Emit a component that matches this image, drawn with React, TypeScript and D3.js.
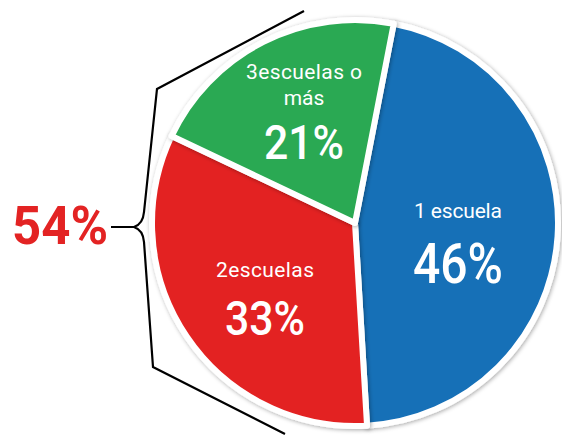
import React from "react";
import * as d3 from "d3";

const categories = ["1 escuela", "2escuelas", "3escuelas o más"];
const labelLines = [["1 escuela"], ["2escuelas"], ["3escuelas o", "más"]];
const values = [46, 33, 21];
const colors = ["#156FB7", "#E32323", "#2AA952"];
const bracketValue = "54%";

const W = 562;
const H = 435;
const cx = 355;
const cy = 223;
const R = 203;

const labelSpecs = [
  { x: 458, y: 218, fs: 21, pctY: 283, pctFs: 56, tl: 88, ptl: 90 },
  { x: 265, y: 277, fs: 21, pctY: 335, pctFs: 49, tl: 98, ptl: 80 },
  { x: 304, y: 79, fs: 21, pctY: 159, pctFs: 48, tl: 116, ptl: 80 },
];

export default function App() {
  const pie = d3
    .pie<number>()
    .sort(null)
    .startAngle((11 * Math.PI) / 180)
    .endAngle((11 * Math.PI) / 180 + 2 * Math.PI)(values);
  const arc = d3.arc<d3.PieArcDatum<number>>().innerRadius(0).outerRadius(R);

  const brace = d3.line()([
    [304, 11],
    [157, 89],
    [144, 212],
  ]);
  const brace2 = d3.line()([
    [144, 242],
    [153, 367],
    [285, 434],
  ]);
  const font = "Roboto, 'DejaVu Sans', sans-serif";

  return (
    <svg width={W} height={H} style={{ position: "absolute", left: 0, top: 0 }}>
      <defs>
        <filter id="sh" x="-10%" y="-10%" width="120%" height="120%">
          <feDropShadow dx="1" dy="1" stdDeviation="2" floodColor="#000" floodOpacity="0.35" />
        </filter>
      </defs>
      <rect width={W} height={H} fill="#fff" />
      <g transform={`translate(${cx},${cy})`}>
        {pie.map((p, i) => (
          <path key={categories[i]} d={arc(p) || ""} fill={colors[i]} stroke="#fff" strokeWidth={6} strokeLinejoin="round" filter="url(#sh)" />
        ))}
      </g>
      {pie.map((p, i) => {
        const s = labelSpecs[i];
        const lines = labelLines[i];
        return (
          <g key={"l" + i} fill="#fff" fontFamily={font} textAnchor="middle">
            {lines.map((ln, j) => (
              <text
                key={j}
                x={s.x}
                y={s.y + j * 26}
                fontSize={s.fs}
                textLength={j === 0 ? s.tl : undefined}
                lengthAdjust="spacing"
              >
                {ln}
              </text>
            ))}
            <text
              x={s.x}
              y={s.pctY}
              fontSize={s.pctFs}
              fontWeight={500}
              textLength={s.ptl}
              lengthAdjust="spacingAndGlyphs"
            >
              {`${p.data}%`}
            </text>
          </g>
        );
      })}
      <path d={brace || ""} fill="none" stroke="#000" strokeWidth={2.2} />
      <path d={brace2 || ""} fill="none" stroke="#000" strokeWidth={2.2} />
      <path
        d="M144,212 Q143,224 134,227 L111,227 M134,227 Q143,230 144,242"
        fill="none"
        stroke="#000"
        strokeWidth={2.2}
      />
      <text
        x={60}
        y={244}
        fill="#E32323"
        fontFamily={font}
        fontSize={53}
        fontWeight="bold"
        textAnchor="middle"
        textLength={96}
        lengthAdjust="spacingAndGlyphs"
      >
        {bracketValue}
      </text>
    </svg>
  );
}
